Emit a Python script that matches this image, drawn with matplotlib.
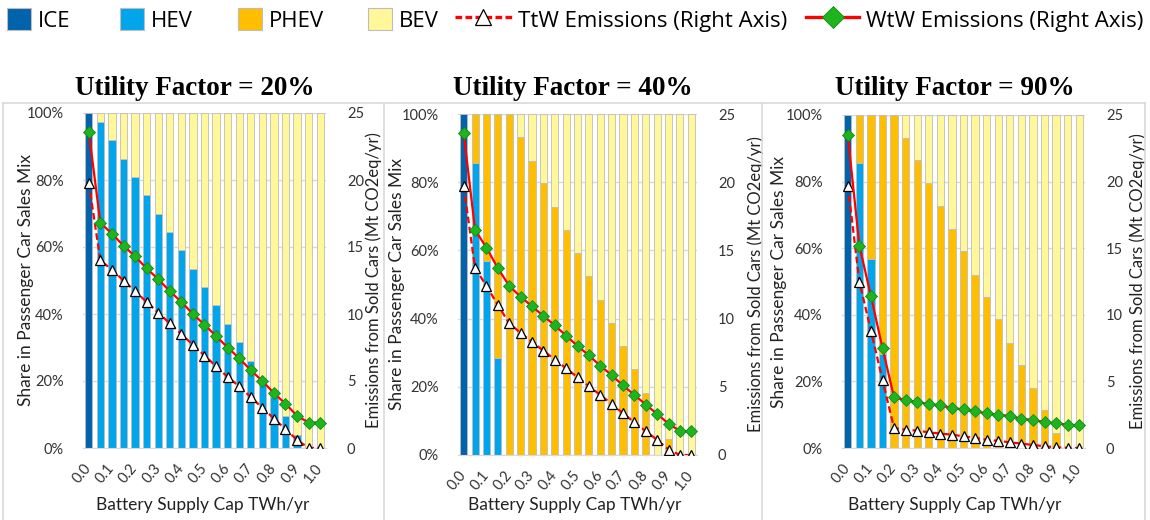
import matplotlib
matplotlib.use("Agg")
import matplotlib.pyplot as plt
from matplotlib.patches import Patch
from matplotlib.lines import Line2D

plt.rcParams['font.family'] = ['Lato', 'DejaVu Sans']

# ---------------- data ----------------
caps = ["0.00", "0.05", "0.10", "0.15", "0.20", "0.25", "0.30", "0.35", "0.40", "0.45", "0.50",
        "0.55", "0.60", "0.65", "0.70", "0.75", "0.80", "0.85", "0.90", "0.95", "1.00"]
xtick_labels = ["0.0", "", "0.1", "", "0.2", "", "0.3", "", "0.4", "", "0.5",
                "", "0.6", "", "0.7", "", "0.8", "", "0.9", "", "1.0"]
share_ticks = [0, 20, 40, 60, 80, 100]
share_tick_labels = ["0%", "20%", "40%", "60%", "80%", "100%"]
emis_ticks = [0, 5, 10, 15, 20, 25]
emis_tick_labels = ["0", "5", "10", "15", "20", "25"]

titles = ["Utility Factor = 20%", "Utility Factor = 40%", "Utility Factor = 90%"]

uf20_ice = [100, 0, 0, 0, 0, 0, 0, 0, 0, 0, 0, 0, 0, 0, 0, 0, 0, 0, 0, 0, 0]
uf20_hev = [0, 97.4, 91.9, 86.4, 80.8, 75.6, 70.0, 64.5, 59.0, 53.4, 48.1, 42.6, 37.0, 31.5, 26.0,
            20.6, 15.2, 9.7, 4.0, 0, 0]
uf20_phev = [0, 0, 0, 0, 0, 0, 0, 0, 0, 0, 0, 0, 0, 0, 0, 0, 0, 0, 0, 0, 0]
uf20_bev = [0, 2.6, 8.1, 13.6, 19.2, 24.4, 30.0, 35.5, 41.0, 46.6, 51.9, 57.4, 63.0, 68.5, 74.0,
            79.4, 84.8, 90.3, 96.0, 100, 100]
uf20_ttw = [19.8, 14.0, 13.3, 12.5, 11.7, 10.9, 10.1, 9.3, 8.5, 7.7, 6.9, 6.1, 5.3, 4.6, 3.8,
            3.0, 2.2, 1.4, 0.6, 0, 0]
uf20_wtw = [23.6, 16.8, 16.0, 15.1, 14.3, 13.4, 12.6, 11.7, 10.9, 10.0, 9.2, 8.35, 7.5, 6.7, 5.8,
            5.0, 4.1, 3.3, 2.4, 1.9, 1.9]

uf40_ice = [100, 0, 0, 0, 0, 0, 0, 0, 0, 0, 0, 0, 0, 0, 0, 0, 0, 0, 0, 0, 0]
uf40_hev = [0, 85.7, 56.9, 28.5, 0, 0, 0, 0, 0, 0, 0, 0, 0, 0, 0, 0, 0, 0, 0, 0, 0]
uf40_phev = [0, 14.3, 43.1, 71.5, 100, 93.4, 86.3, 79.7, 72.8, 66.0, 59.3, 52.5, 45.5, 38.8, 32.0,
             25.1, 18.3, 0, 4.7, 0, 0]
uf40_bev = [0, 0, 0, 0, 0, 6.6, 13.7, 20.3, 27.2, 34.0, 40.7, 47.5, 54.5, 61.2, 68.0,
            74.9, 81.7, 100, 95.3, 100, 100]
uf40_ttw = [19.7, 13.7, 12.4, 11.0, 9.65, 8.95, 8.3, 7.65, 7.0, 6.35, 5.7, 5.05, 4.4, 3.75, 3.05,
            2.4, 1.75, 1.1, 0.4, 0, 0]
uf40_wtw = [23.6, 16.5, 15.2, 13.7, 12.4, 11.6, 10.9, 10.2, 9.5, 8.75, 8.0, 7.3, 6.55, 5.85, 5.1,
            4.4, 3.7, 3.0, 2.3, 1.75, 1.75]

uf90_ice = [100, 0, 0, 0, 0, 0, 0, 0, 0, 0, 0, 0, 0, 0, 0, 0, 0, 0, 0, 0, 0]
uf90_hev = [0, 85.7, 56.8, 28.1, 0, 0, 0, 0, 0, 0, 0, 0, 0, 0, 0, 0, 0, 0, 0, 0, 0]
uf90_phev = [0, 14.3, 43.2, 71.9, 100, 93.1, 86.4, 79.7, 72.6, 65.9, 59.1, 52.1, 45.4, 38.6, 31.6,
             24.8, 18.0, 11.3, 4.5, 0, 0]
uf90_bev = [0, 0, 0, 0, 0, 6.9, 13.6, 20.3, 27.4, 34.1, 40.9, 47.9, 54.6, 61.4, 68.4,
            75.2, 82.0, 88.7, 95.5, 100, 100]
uf90_ttw = [19.7, 12.5, 8.8, 5.1, 1.5, 1.38, 1.3, 1.18, 1.08, 1.0, 0.88, 0.75, 0.63, 0.53, 0.43,
            0.33, 0.23, 0.13, 0.05, 0, 0]
uf90_wtw = [23.5, 15.2, 11.4, 7.5, 3.8, 3.6, 3.45, 3.3, 3.2, 3.0, 2.9, 2.75, 2.6, 2.5, 2.4,
            2.2, 2.1, 1.95, 1.85, 1.75, 1.7]

panels = [
    (uf20_ice, uf20_hev, uf20_phev, uf20_bev, uf20_ttw, uf20_wtw),
    (uf40_ice, uf40_hev, uf40_phev, uf40_bev, uf40_ttw, uf40_wtw),
    (uf90_ice, uf90_hev, uf90_phev, uf90_bev, uf90_ttw, uf90_wtw),
]

# ---------------- style ----------------
C_ICE = "#0063AC"
C_HEV = "#00A5EC"
C_PHEV = "#FFBE00"
C_BEV = "#FFF799"
C_EDGE = "#BDBDBD"
C_GRID = "#D9D9D9"
C_RED = "#FF0000"
C_GREEN = "#1EB41E"

W, H = 1150, 520
fig = plt.figure(figsize=(W / 100, H / 100), dpi=100)


def rect(l, t, r, b):
    return [l / W, 1 - b / H, (r - l) / W, (b - t) / H]


# pixel boxes: (left, top, right, bottom)
boxes = [(83, 113, 326, 448), (458, 114, 697, 455), (842, 115, 1085, 448)]
title_x = [195, 573, 955]
ylab_left_edge = [34, 405, 787]
ylab_right_edge = [365, 747, 1129]
xlab_x = [203, 575, 955]

# panel frames
for x in [3, 384, 762, 1145]:
    fig.add_artist(Line2D([x / W, x / W], [0, 1 - 103 / H], color=C_GRID, lw=1.2))
fig.add_artist(Line2D([3 / W, 1145 / W], [1 - 103 / H, 1 - 103 / H], color=C_GRID, lw=1.2))

xs = list(range(len(caps)))
for i, (ice, hev, phev, bev, ttw, wtw) in enumerate(panels):
    l, t, r, b = boxes[i]
    ax = fig.add_axes(rect(l, t, r, b))
    bw = 0.62
    bottom = [0] * len(xs)
    for vals, col in [(ice, C_ICE), (hev, C_HEV), (phev, C_PHEV), (bev, C_BEV)]:
        ax.bar(xs, vals, width=bw, bottom=bottom, color=col, edgecolor=C_EDGE,
               linewidth=0.6, zorder=2)
        bottom = [a + v for a, v in zip(bottom, vals)]
    ax.set_xlim(-0.5, len(xs) - 0.5)
    ax.set_ylim(0, 100)
    ax.set_yticks(share_ticks)
    ax.set_yticklabels(share_tick_labels)
    ax.set_xticks(xs)
    ax.set_xticklabels(xtick_labels, rotation=50, ha='right', va='center',
                       rotation_mode='anchor')
    ax.tick_params(axis='x', length=0, pad=13, labelsize=10.5, colors='#333333')
    ax.tick_params(axis='y', length=0, pad=14, labelsize=10.5, colors='#333333')
    ax.grid(axis='y', color=C_GRID, lw=1, zorder=0)
    ax.set_axisbelow(True)
    for s in ['top', 'right', 'left']:
        ax.spines[s].set_visible(False)
    ax.spines['bottom'].set_color(C_GRID)
    ax.set_ylabel("Share in Passenger Car Sales Mix", fontsize=12.5, color='#222222')
    ax.yaxis.set_label_coords((ylab_left_edge[i] - l) / (r - l), 0.5)
    ax.set_xlabel("Battery Supply Cap TWh/yr", fontsize=12.5, color='#222222')
    ax.xaxis.set_label_coords((xlab_x[i] - l) / (r - l), 1 - (497 - t) / (b - t))

    ax2 = ax.twinx()
    ax2.set_ylim(0, 25)
    ax2.set_yticks(emis_ticks)
    ax2.set_yticklabels(emis_tick_labels)
    ax2.tick_params(axis='y', length=0, pad=15, labelsize=10.5, colors='#333333')
    for s in ax2.spines.values():
        s.set_visible(False)
    ax2.plot(xs, ttw, color=C_RED, lw=1.6, ls=(0, (3, 1.6)), marker='^', ms=7.5,
             mfc='white', mec='black', mew=0.9, zorder=4)
    ax2.plot(xs, wtw, color=C_RED, lw=1.6, marker='D', ms=6.5,
             mfc=C_GREEN, mec='#138A13', mew=0.6, zorder=5)
    ax2.set_ylabel("Emissions from Sold Cars (Mt CO2eq/yr)", fontsize=12, color='#222222')
    ax2.yaxis.set_label_coords((ylab_right_edge[i] - l) / (r - l), 0.5)

    fig.text(title_x[i] / W, 1 - 88 / H, titles[i], ha='center', va='center',
             fontsize=19.5, fontweight='bold', family='Liberation Serif')

# ---------------- legend (one entry each, placed along the top) ----------------
leg_handles = [
    Patch(facecolor=C_ICE, edgecolor=C_EDGE, lw=0.8),
    Patch(facecolor=C_HEV, edgecolor=C_EDGE, lw=0.8),
    Patch(facecolor=C_PHEV, edgecolor=C_EDGE, lw=0.8),
    Patch(facecolor=C_BEV, edgecolor=C_EDGE, lw=0.8),
    Line2D([], [], color=C_RED, lw=2.4, ls=(0, (2, 1)), marker='^', ms=12,
           mfc='white', mec='black', mew=0.9),
    Line2D([], [], color=C_RED, lw=2.4, marker='D', ms=11,
           mfc=C_GREEN, mec='#138A13', mew=0.6),
]
leg_labels = ["ICE", "HEV", "PHEV", "BEV", "TtW Emissions (Right Axis)", "WtW Emissions (Right Axis)"]
leg_x = [7, 120, 238, 368, 455, 806]
leg_len = [1.1, 1.1, 1.1, 1.1, 2.55, 2.4]
for h, lab, x, hl in zip(leg_handles, leg_labels, leg_x, leg_len):
    fig.legend([h], [lab], loc='center left', bbox_to_anchor=(x / W, 1 - 20 / H),
               frameon=False, prop={'family': 'Open Sans', 'size': 16},
               handlelength=hl, handleheight=1.1, handletextpad=0.28,
               borderaxespad=0, borderpad=0)

fig.savefig("out.png", dpi=100)
